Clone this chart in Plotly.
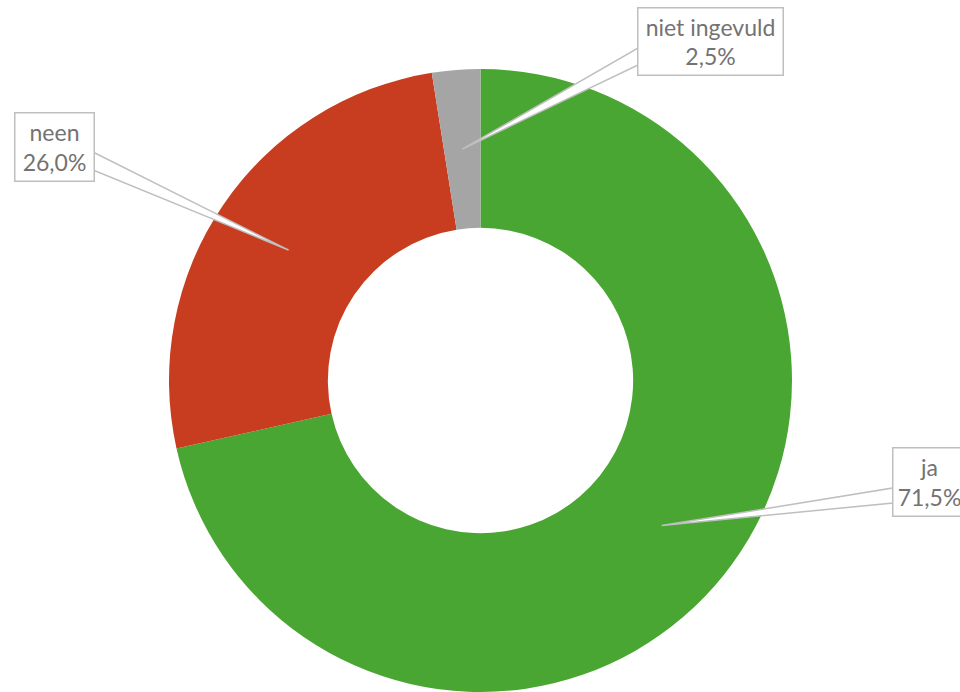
import math
import plotly.graph_objects as go

# data
labels = ["ja", "neen", "niet ingevuld"]
values = [71.5, 26.0, 2.5]
colors = ["#4AA632", "#C83D20", "#A5A5A5"]

W, H = 960, 692
# donut geometry in pixels
cx, cy, r_out = 480.5, 380.5, 311.5
hole = 0.49

# label boxes (pixel centre, size) and where the callout meets the box
boxes = {
    "ja": dict(x=929, y=481.5, w=72, h=67, base=[(893, 488), (893, 503)]),
    "neen": dict(x=54, y=146.5, w=78, h=67, base=[(93, 152), (93, 170)]),
    "niet ingevuld": dict(x=710, y=41, w=144, h=66, base=[(638, 48), (638, 65)]),
}


def px(x, y):
    return x / W, 1 - y / H


x0, y0 = px(cx - r_out, cy + r_out)
x1, y1 = px(cx + r_out, cy - r_out)

fig = go.Figure(go.Pie(
    labels=labels, values=values, hole=hole, sort=False,
    direction="clockwise", rotation=0,
    marker=dict(colors=colors, line=dict(width=0)),
    textinfo="none", hoverinfo="label+percent",
    domain=dict(x=[x0, x1], y=[max(0, y0), y1]),
))

shapes = []
annotations = []
total = sum(values)
cum = 0
r_mid = r_out * (1 + hole) / 2
for lab, v in zip(labels, values):
    mid = (cum + v / 2) / total * 2 * math.pi
    cum += v
    ax = cx + r_mid * math.sin(mid)
    ay = cy - r_mid * math.cos(mid)
    b = boxes[lab]
    p0 = px(ax, ay)
    p1 = px(*b["base"][0])
    p2 = px(*b["base"][1])
    shapes.append(dict(
        type="path", xref="paper", yref="paper", layer="above",
        path=f"M {p0[0]},{p0[1]} L {p1[0]},{p1[1]} L {p2[0]},{p2[1]} Z",
        fillcolor="white", line=dict(color="#BFBFBF", width=1.5),
    ))
    pct = f"{v:.1f}".replace(".", ",") + "%"
    bx, by = px(b["x"], b["y"])
    annotations.append(dict(
        x=bx, y=by, xref="paper", yref="paper", xanchor="center", yanchor="middle",
        text=f"{lab}<br>{pct}", showarrow=False, align="center",
        width=b["w"], height=b["h"], borderpad=0,
        bgcolor="white", bordercolor="#BFBFBF", borderwidth=1.5,
        font=dict(family="Lato", size=23, color="#737373"),
    ))

fig.update_layout(
    width=W, height=H, margin=dict(l=0, r=0, t=0, b=0),
    showlegend=False, paper_bgcolor="white", plot_bgcolor="white",
    shapes=shapes, annotations=annotations,
)

# drop the default page margin so the figure fills the window exactly
fig.write_html("out.html", config={"displayModeBar": False},
               post_script="document.body.style.margin='0';"
                           "document.body.style.overflow='hidden';")
